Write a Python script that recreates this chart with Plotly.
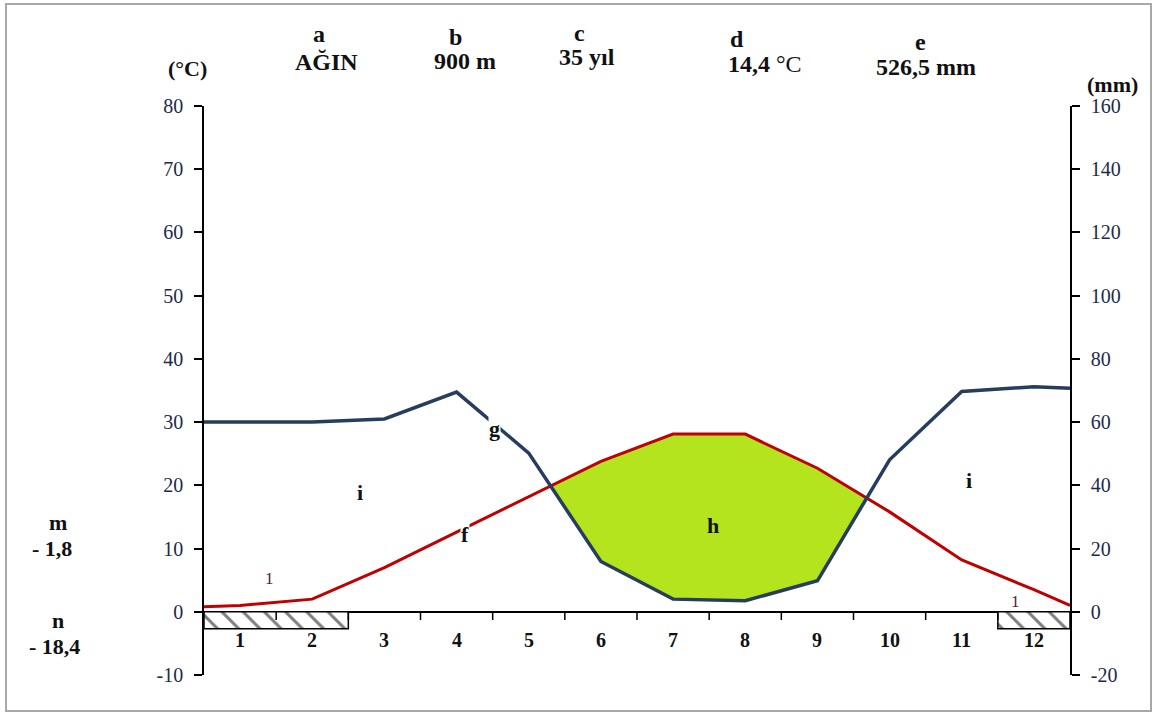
import plotly.graph_objects as go

# ---------------- data ----------------
months = list(range(1, 13))
month_labels = [str(m) for m in months]
temperature = [1.0, 2.0, 7.0, 12.6, 18.2, 23.8, 28.1, 28.1, 22.7, 15.8, 8.2, 3.5]      # °C
precipitation = [60.0, 60.0, 61.0, 69.5, 50.2, 15.9, 4.0, 3.5, 9.8, 48.1, 69.7, 71.2]  # mm
temp_edges = [0.8, 1.0]     # curve values drawn at the left / right border
prec_edges = [60.0, 70.7]
frost_months = [1, 2, 12]
frost_depth = -2.7
temp_ticks = list(range(-10, 81, 10))
prec_ticks = list(range(-20, 161, 20))
temp_tick_labels = [str(v) for v in temp_ticks]
prec_tick_labels = [str(v) for v in prec_ticks]
station = "AĞIN"
altitude = "900 m"
years = "35 yıl"
mean_temp = "14,4"
total_prec = "526,5 mm"
abs_min_mean = "- 1,8"
abs_min = "- 18,4"

# ---------------- geometry ----------------
W, H = 1155, 713
PL, PR, PT, PB = 204, 1070, 106, 675
XMIN, XMAX = 0.5, 12.5
SERIF = "Liberation Serif"
TXT = "#111111"
TICKC = "#1c2a4a"


def pxx(x):
    return (x - PL) / (PR - PL)


def pxy(y):
    return (PB - y) / (PB - PT)


xs = [XMIN] + months + [XMAX]
ts = [temp_edges[0]] + temperature + [temp_edges[1]]
ps = [prec_edges[0]] + precipitation + [prec_edges[1]]
ph = [p / 2 for p in ps]  # precipitation on the temperature scale

# arid (green) polygons where temperature curve lies above precipitation curve
polys = []
top, bot = [], []
for i in range(len(xs)):
    d = ts[i] - ph[i]
    if i > 0:
        dp = ts[i - 1] - ph[i - 1]
        if (dp > 0) != (d > 0):
            t = dp / (dp - d)
            xc = xs[i - 1] + t * (xs[i] - xs[i - 1])
            yc = ts[i - 1] + t * (ts[i] - ts[i - 1])
            if d > 0:
                top, bot = [(xc, yc)], []
            else:
                top.append((xc, yc))
                polys.append(top + bot[::-1])
                top, bot = [], []
    if d > 0:
        top.append((xs[i], ts[i]))
        bot.append((xs[i], ph[i]))

fig = go.Figure()

for poly in polys:
    fig.add_trace(go.Scatter(
        x=[p[0] for p in poly] + [poly[0][0]],
        y=[p[1] for p in poly] + [poly[0][1]],
        mode="lines", fill="toself", fillcolor="#b4e41e",
        line=dict(width=0), hoverinfo="skip", showlegend=False))

# frost boxes (contiguous runs of frost months)
runs = []
for m in sorted(frost_months):
    if runs and m == runs[-1][-1] + 1:
        runs[-1].append(m)
    else:
        runs.append([m])
for r in runs:
    fig.add_trace(go.Bar(
        x=[(r[0] + r[-1]) / 2], y=[frost_depth], base=[0], width=[len(r)],
        marker=dict(color="white", line=dict(color="black", width=1.5),
                    pattern=dict(shape="\\", fgcolor="black", bgcolor="white",
                                 size=15, solidity=0.2)),
        hoverinfo="skip", showlegend=False))

fig.add_trace(go.Scatter(x=xs, y=ts, mode="lines",
                         line=dict(color="#c00000", width=3),
                         showlegend=False, name="Sıcaklık"))
fig.add_trace(go.Scatter(x=xs, y=ps, mode="lines", yaxis="y2",
                         line=dict(color="#263d5e", width=3.5),
                         showlegend=False, name="Yağış"))

shapes = []
# category boundary ticks on the zero line
for b in range(1, 12):
    shapes.append(dict(type="line", xref="x", yref="y", x0=b + 0.5, x1=b + 0.5,
                       y0=0, y1=-1.3, line=dict(color="black", width=1.5)))
# outer frame
shapes.append(dict(type="rect", xref="paper", yref="paper",
                   x0=pxx(6), x1=pxx(1151), y0=pxy(711), y1=pxy(4),
                   line=dict(color="#a8a8a8", width=2)))

ann = []
# month labels
for m, lab in zip(months, month_labels):
    ann.append(dict(x=m, y=-4.4, xref="x", yref="y", text="<b>%s</b>" % lab,
                    xanchor="center", yanchor="middle",
                    showarrow=False, font=dict(family=SERIF, size=20, color=TXT)))


def ptext(x, y, text, size=24):
    ann.append(dict(x=pxx(x), y=pxy(y), xref="paper", yref="paper", text=text,
                    xanchor="center", yanchor="middle",
                    showarrow=False, font=dict(family=SERIF, size=size, color=TXT)))


# header
ptext(187, 68, "<b>(°C)</b>", 22)
ptext(319, 34, "<b>a</b>")
ptext(326, 62, "<b>%s</b>" % station)
ptext(455, 37, "<b>b</b>")
ptext(465, 61, "<b>%s</b>" % altitude)
ptext(579, 33, "<b>c</b>")
ptext(587, 57, "<b>%s</b>" % years)
ptext(737, 39, "<b>d</b>")
ptext(765, 64, "<b>%s</b> °C" % mean_temp)
ptext(920, 42, "<b>e</b>")
ptext(926, 67, "<b>%s</b>" % total_prec)
ptext(1112, 84, "<b>(mm)</b>", 22)
# side labels
ptext(58, 522, "<b>m</b>", 22)
ptext(52, 548, "<b>%s</b>" % abs_min_mean, 22)
ptext(58, 620, "<b>n</b>", 22)
ptext(54, 646, "<b>%s</b>" % abs_min, 22)


def dtext(x, y, text, size=22, bg=None, color=TXT, bold=True):
    ann.append(dict(x=x, y=y, xref="x", yref="y",
                    text=("<b>%s</b>" % text) if bold else text,
                    xanchor="center", yanchor="middle",
                    showarrow=False, bgcolor=bg, borderpad=0,
                    font=dict(family=SERIF, size=size, color=color)))


dtext(2.66, 18.8, "i")
dtext(11.1, 20.7, "i")
dtext(4.53, 29.0, "g", bg="white")
dtext(4.12, 12.2, "f", bg="white")
dtext(7.55, 13.7, "h")
dtext(1.41, 5.3, "1", size=17, color="#4b2045", bold=False)
dtext(11.74, 1.7, "1", size=17, color="#4b2045", bold=False)

axis_common = dict(ticks="outside", ticklen=8, tickwidth=1.5, tickcolor="black",
                   showline=True, linecolor="black", linewidth=1.5,
                   showgrid=False, ticklabelstandoff=7,
                   tickfont=dict(family=SERIF, size=20, color=TICKC))

fig.update_layout(
    width=W, height=H,
    margin=dict(l=PL, r=W - PR, t=PT, b=H - PB),
    paper_bgcolor="white", plot_bgcolor="white",
    barmode="overlay", showlegend=False,
    xaxis=dict(range=[XMIN, XMAX], visible=False),
    yaxis=dict(range=[-10, 80], tickvals=temp_ticks, ticktext=temp_tick_labels,
               zeroline=True, zerolinecolor="black", zerolinewidth=2, **axis_common),
    yaxis2=dict(range=[-20, 160], tickvals=prec_ticks, ticktext=prec_tick_labels,
                overlaying="y", side="right", zeroline=False, **axis_common),
    shapes=shapes, annotations=ann,
)

fig.write_html("out.html", config={"displayModeBar": False},
               post_script="document.body.style.margin='0';"
                           "document.body.style.overflow='hidden';")
